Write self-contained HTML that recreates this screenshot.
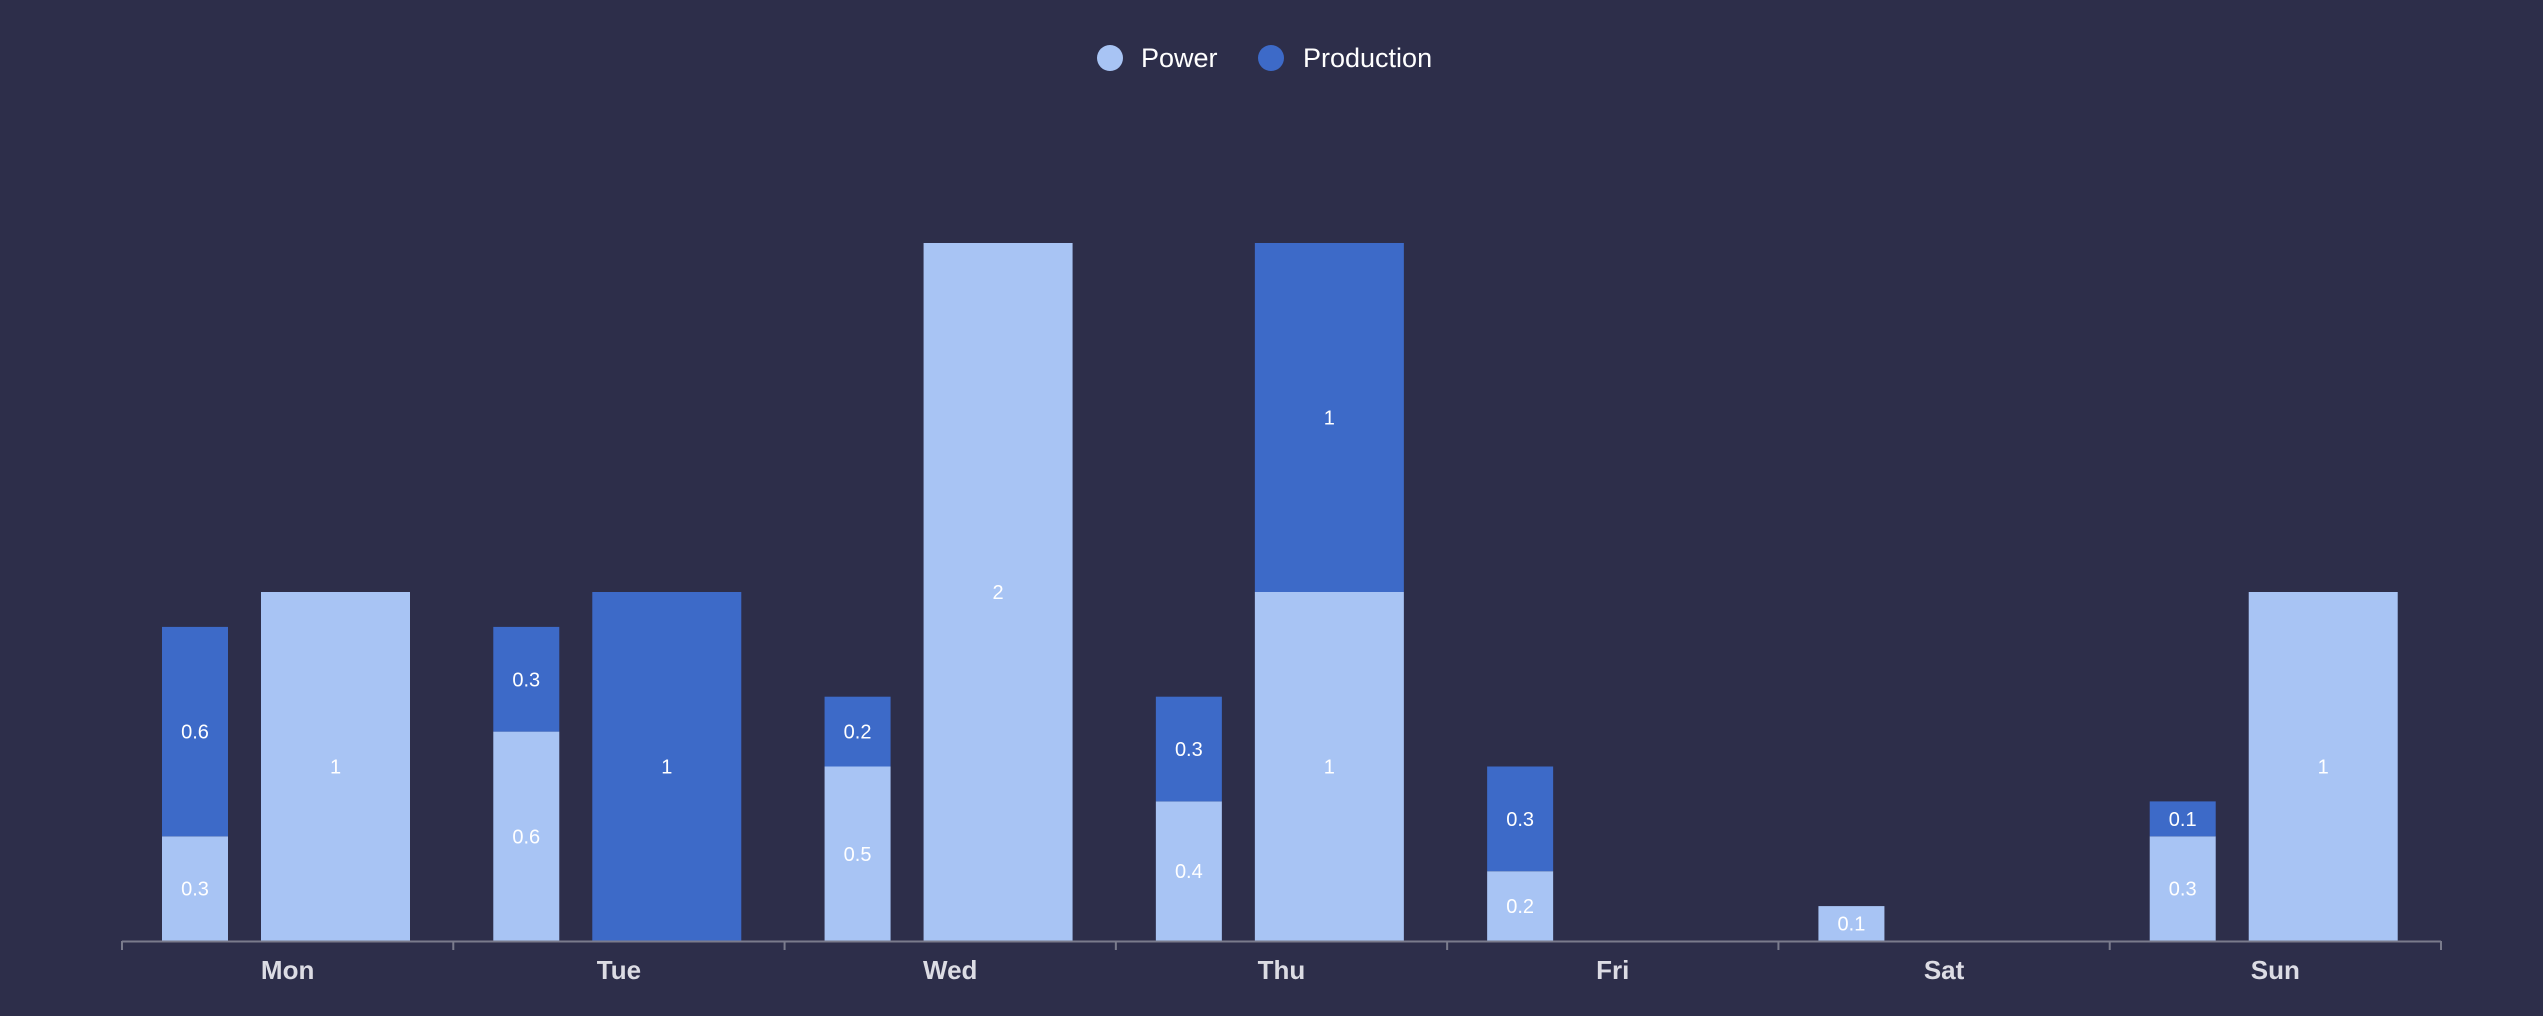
<!DOCTYPE html>
<html><head><meta charset="utf-8"><style>
html,body{margin:0;padding:0;background:#2d2e4a;}
svg{display:block;font-family:"Liberation Sans",sans-serif;}
</style></head><body>
<svg id="chart" width="2543" height="1016" viewBox="0 0 2543 1016" xmlns="http://www.w3.org/2000/svg">
<rect width="2543" height="1016" fill="#2d2e4a"/>
<g>
<g><circle cx="1110" cy="58" r="13" fill="#a8c4f4"/><text x="1141" y="67" fill="#ffffff" font-size="27">Power</text></g>
<g><circle cx="1271" cy="58" r="13" fill="#3d6ac8"/><text x="1303" y="67" fill="#ffffff" font-size="27">Production</text></g>
</g>
<g id="plot"></g>
</svg>
<script>
const categories = ["Mon","Tue","Wed","Thu","Fri","Sat","Sun"];
const narrowPower = [0.3,0.6,0.5,0.4,0.2,0.1,0.3];
const narrowProduction = [0.6,0.3,0.2,0.3,0.3,0,0.1];
const widePower = [1,0,2,1,0,0,1];
const wideProduction = [0,1,0,1,0,0,0];
const yMax = 2;

const NS="http://www.w3.org/2000/svg";
const plot=document.getElementById('plot');
const x0=122,x1=2441,y0=941,yTop=243;
const cw=(x1-x0)/categories.length;
function y(v){return y0-(v/yMax)*(y0-yTop);}
function mk(t,a){const e=document.createElementNS(NS,t);for(const k in a)e.setAttribute(k,a[k]);plot.appendChild(e);return e;}
function seg(x,w,base,v,color,name){
  if(v<=0)return;
  const r=mk('rect',{x:x,y:y(base+v),width:w,height:y(base)-y(base+v),fill:color});
  
  
  const t=mk('text',{x:x+w/2,y:(y(base)+y(base+v))/2+7,fill:'#ffffff','font-size':20,'text-anchor':'middle'});
  t.textContent=String(v);
  
  
}
categories.forEach((c,i)=>{
  const cx=x0+i*cw;
  seg(cx+40,66,0,narrowPower[i],'#a8c4f4','bar-power-narrow-'+c.toLowerCase());
  seg(cx+40,66,narrowPower[i],narrowProduction[i],'#3d6ac8','bar-production-narrow-'+c.toLowerCase());
  seg(cx+139,149,0,widePower[i],'#a8c4f4','bar-power-wide-'+c.toLowerCase());
  seg(cx+139,149,widePower[i],wideProduction[i],'#3d6ac8','bar-production-wide-'+c.toLowerCase());
  const l=mk('text',{x:cx+cw/2,y:979,fill:'#dcdce4','font-size':26,'font-weight':'bold','text-anchor':'middle'});
  l.textContent=c;
  
  
});
const ax=mk('line',{x1:x0,y1:y0+0.5,x2:x1,y2:y0+0.5,stroke:'#7a7b8c','stroke-width':2});


for(let i=0;i<=categories.length;i++){
  const tk=mk('line',{x1:x0+i*cw,y1:y0,x2:x0+i*cw,y2:y0+9,stroke:'#7a7b8c','stroke-width':2});
  
  
}
</script>
</body></html>
